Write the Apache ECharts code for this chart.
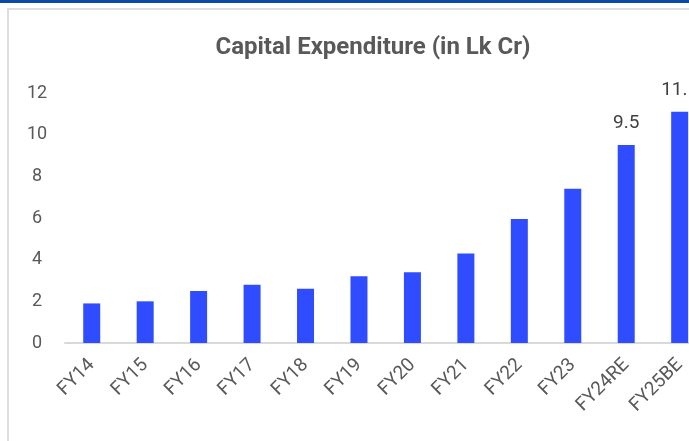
<!DOCTYPE html>
<html>
<head>
<meta charset="utf-8">
<script src="https://cdn.jsdelivr.net/npm/echarts@6/dist/echarts.min.js"></script>
<style>
  html, body { margin: 0; padding: 0; width: 689px; height: 441px; overflow: hidden; background: #fff; }
  #topline { position: absolute; left: 0; top: 0; width: 689px; height: 3px; background: #0a4aa8; }
  #frame { position: absolute; left: 7px; top: 8px; width: 700px; height: 460px; border-left: 2px solid #dedede; border-top: 2px solid #dedede; }
  #chart { position: absolute; left: 0; top: 0; width: 720px; height: 441px; }
</style>
</head>
<body>
<div id="topline"></div>
<div id="frame"></div>
<div id="chart"></div>
<script>
const titleText = 'Capital Expenditure (in Lk Cr)';
const categories = ['FY14', 'FY15', 'FY16', 'FY17', 'FY18', 'FY19', 'FY20', 'FY21', 'FY22', 'FY23', 'FY24RE', 'FY25BE'];
const capex = [1.9, 2.0, 2.5, 2.8, 2.6, 3.2, 3.4, 4.3, 5.95, 7.4, 9.5, 11.1];
const labelledIndexes = [10, 11];
const yMin = 0, yMax = 12, yStep = 2;

const chart = echarts.init(document.getElementById('chart'), null, { renderer: 'canvas' });
const font = 'Roboto, "Open Sans", sans-serif';
chart.setOption({
  animation: false,
  backgroundColor: 'transparent',
  title: {
    text: titleText,
    left: 368,
    top: 31,
    textAlign: 'center',
    textStyle: { fontFamily: font, fontSize: 24, fontWeight: 'bold', color: '#595959' }
  },
  grid: { left: 65, right: 13.6, top: 93, bottom: 98, containLabel: false },
  xAxis: {
    type: 'category',
    data: categories,
    axisLine: { lineStyle: { color: '#d9d9d9', width: 2 } },
    axisTick: { show: false },
    axisLabel: { rotate: 45, margin: 19, fontFamily: font, fontSize: 19, color: '#595959' }
  },
  yAxis: {
    type: 'value',
    min: yMin, max: yMax, interval: yStep,
    axisLine: { show: false },
    axisTick: { show: false },
    splitLine: { show: false },
    axisLabel: { align: 'center', margin: 28, fontFamily: font, fontSize: 18, color: '#595959' }
  },
  series: [{
    type: 'bar',
    barWidth: 17,
    itemStyle: { color: '#2f4dff' },
    data: capex.map((v, i) => ({
      value: v,
      label: {
        show: labelledIndexes.includes(i),
        position: 'top',
        distance: 12,
        fontFamily: font,
        fontSize: 19,
        color: '#404040'
      }
    }))
  }]
});
</script>
</body>
</html>
